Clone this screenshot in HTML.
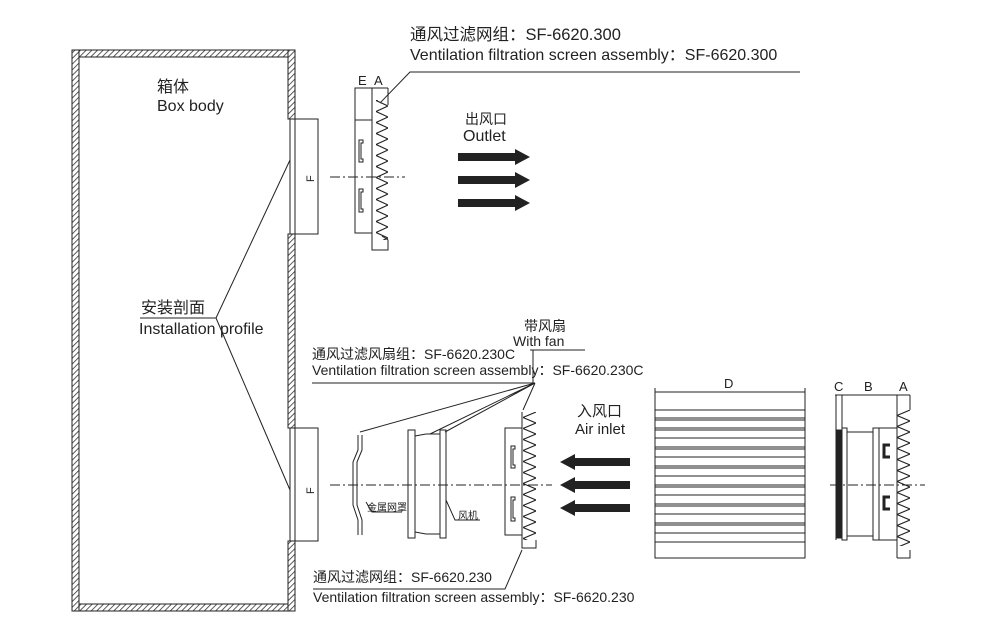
<!DOCTYPE html>
<html><head><meta charset="utf-8"><style>
html,body{margin:0;padding:0;background:#fff;}
svg{display:block;}
text{font-family:"Liberation Sans","Noto Sans CJK SC",sans-serif;fill:#222;}
</style></head><body>
<svg width="1000" height="642" viewBox="0 0 1000 642" xmlns="http://www.w3.org/2000/svg">
<defs>
<pattern id="h" width="4" height="4" patternUnits="userSpaceOnUse" patternTransform="rotate(45)">
<rect width="4" height="4" fill="#fff"/><line x1="0" y1="0" x2="0" y2="4" stroke="#333" stroke-width="1.6"/></pattern>
<pattern id="z1" x="376" y="95" width="12" height="11" patternUnits="userSpaceOnUse"><path d="M12,0 L0,5.5 L12,11" fill="none" stroke="#222" stroke-width="1.1"/></pattern>
<pattern id="z2" x="523" y="412" width="13" height="11" patternUnits="userSpaceOnUse"><path d="M13,0 L0,5.5 L13,11" fill="none" stroke="#222" stroke-width="1.1"/></pattern>
<pattern id="z3" x="897" y="410" width="13" height="11" patternUnits="userSpaceOnUse"><path d="M13,0 L0,5.5 L13,11" fill="none" stroke="#222" stroke-width="1.1"/></pattern>
</defs>
<g stroke="#222" fill="none" stroke-width="1">
<rect x="72" y="50" width="223" height="7" fill="url(#h)"/>
<rect x="72" y="604" width="223" height="7" fill="url(#h)"/>
<rect x="72" y="50" width="7" height="561" fill="url(#h)"/>
<rect x="288" y="50" width="7" height="69" fill="url(#h)"/>
<rect x="288" y="234" width="7" height="194" fill="url(#h)"/>
<rect x="288" y="541" width="7" height="70" fill="url(#h)"/>
<line x1="290" y1="119" x2="290" y2="234"/><line x1="290" y1="428" x2="290" y2="541"/>
<rect x="295" y="119" width="23" height="115"/>
<rect x="295" y="428" width="23" height="113"/>
<line x1="140" y1="318" x2="216" y2="318"/>
<line x1="216" y1="318" x2="290" y2="160"/>
<line x1="216" y1="318" x2="290" y2="490"/>
<line x1="330" y1="177" x2="405" y2="177" stroke-dasharray="10,3,2,3"/>
<rect x="355" y="88" width="17" height="32"/>
<rect x="355" y="120" width="17" height="113"/>
<path d="M372,88 V250 H388 V240 L382,236"/>
<line x1="388" y1="88" x2="388" y2="105"/>
<line x1="355" y1="88" x2="388" y2="88"/>
<rect x="376" y="100" width="12" height="140" fill="url(#z1)" stroke="none"/>
<path d="M363,140 h-4 v22 h4 v-3 h-2 v-16 h2z M363,189 h-4 v23 h4 v-3 h-2 v-17 h2z"/>
<path d="M380,103 L410,72 H800"/>
<line x1="330" y1="485" x2="552" y2="485" stroke-dasharray="10,3,2,3"/>
<path d="M358,435 V450 L353,462 V505 L358,520 V535 M362,435 V450 L357,462 V505 L362,520 V535" />
<rect x="408" y="430" width="7" height="108"/><rect x="440" y="430" width="6" height="108"/>
<path d="M415,436 L426,434 H440 M415,532 L426,534 H440"/>
<rect x="505" y="428" width="17" height="107"/>
<path d="M522,412 V548 H536 V540"/>
<rect x="523" y="412" width="13" height="128" fill="url(#z2)" stroke="none"/>
<path d="M515,446 h-4 v22 h4 v-3 h-2 v-16 h2z M515,497 h-4 v24 h4 v-3 h-2 v-18 h2z"/>
<path d="M312,383 H535 M535,383 L360,432 M535,383 L430,434 M535,383 L445,432 M535,383 L523,410"/>
<path d="M530,350 H585" /><line x1="533" y1="350" x2="533" y2="383"/>
<path d="M313,589 H505 L522,550"/>
<path d="M366,502 L372,512 H402"/><path d="M446,500 L455,520 H480"/>
<line x1="655" y1="392" x2="805" y2="392"/>
<line x1="655" y1="388" x2="655" y2="410"/><line x1="805" y1="388" x2="805" y2="410"/>
<rect x="655" y="410" width="150" height="148"/>
<path d="M655,418H805M655,428H805M655,438H805M655,447H805M655,457H805M655,466H805M655,476H805M655,485H805M655,495H805M655,504H805M655,514H805M655,523H805M655,533H805M655,542H805"/>
<path d="M655,420H805M655,430H805M655,449H805M655,468H805M655,487H805M655,506H805M655,525H805"/>
<line x1="830" y1="485" x2="925" y2="485" stroke-dasharray="10,3,2,3"/>
<line x1="835" y1="395" x2="910" y2="395"/>
<line x1="836" y1="395" x2="836" y2="540"/><line x1="842" y1="395" x2="842" y2="540"/><line x1="897" y1="395" x2="897" y2="558"/><line x1="910" y1="395" x2="910" y2="410"/>
<rect x="836" y="430" width="6" height="108" fill="#222"/>
<rect x="842" y="428" width="5" height="112"/>
<path d="M847,432 H873 M847,536 H873"/>
<rect x="873" y="428" width="6" height="112"/><rect x="879" y="428" width="18" height="112"/>
<path d="M897,558 H910 V550"/>
<rect x="897" y="410" width="13" height="136" fill="url(#z3)" stroke="none"/>
<path d="M890,445 h-6 v12 h6 M890,497 h-6 v12 h6" stroke-width="3"/>
</g>
<g fill="#222">
<path d="M458,153 H515 V149 L530,157 L515,165 V161 H458Z"/>
<path d="M458,176 H515 V172 L530,180 L515,188 V184 H458Z"/>
<path d="M458,199 H515 V195 L530,203 L515,211 V207 H458Z"/>
<path d="M630,458 H575 V454 L560,462 L575,470 V466 H630Z"/>
<path d="M630,481 H575 V477 L560,485 L575,493 V489 H630Z"/>
<path d="M630,504 H575 V500 L560,508 L575,516 V512 H630Z"/>
</g>
<g font-size="13">
<text x="358" y="85">E</text><text x="374" y="85">A</text>
<text x="724" y="388">D</text>
<text x="834" y="391">C</text><text x="864" y="391">B</text><text x="899" y="391">A</text>
<text transform="translate(314,182) rotate(-90)" font-size="11">F</text>
<text transform="translate(314,494) rotate(-90)" font-size="11">F</text>
</g>
<g font-size="16">
<text x="410" y="40" font-size="16.5">通风过滤网组：SF-6620.300</text>
<text x="410" y="60" fill="#444">Ventilation filtration screen assembly：SF-6620.300</text>
<text x="157" y="92">箱体</text><text x="157" y="111">Box body</text>
<text x="141" y="313">安装剖面</text><text x="139" y="334">Installation profile</text>
<text x="465" y="124" font-size="14">出风口</text><text x="463" y="141" fill="#444">Outlet</text>
<text x="524" y="331" font-size="14">带风扇</text><text x="513" y="346" font-size="14" fill="#444">With fan</text>
<text x="312" y="359" font-size="14">通风过滤风扇组：SF-6620.230C</text>
<text x="312" y="375" font-size="14" fill="#444">Ventilation filtration screen assembly：SF-6620.230C</text>
<text x="577" y="416" font-size="15">入风口</text><text x="575" y="434" font-size="15" fill="#444">Air inlet</text>
<text x="313" y="582" font-size="14">通风过滤网组：SF-6620.230</text>
<text x="313" y="602" font-size="14" fill="#444">Ventilation filtration screen assembly：SF-6620.230</text>
<text x="367" y="511" font-size="10">金属网罩</text><text x="458" y="519" font-size="10">风机</text>
</g>
</svg>
</body></html>
